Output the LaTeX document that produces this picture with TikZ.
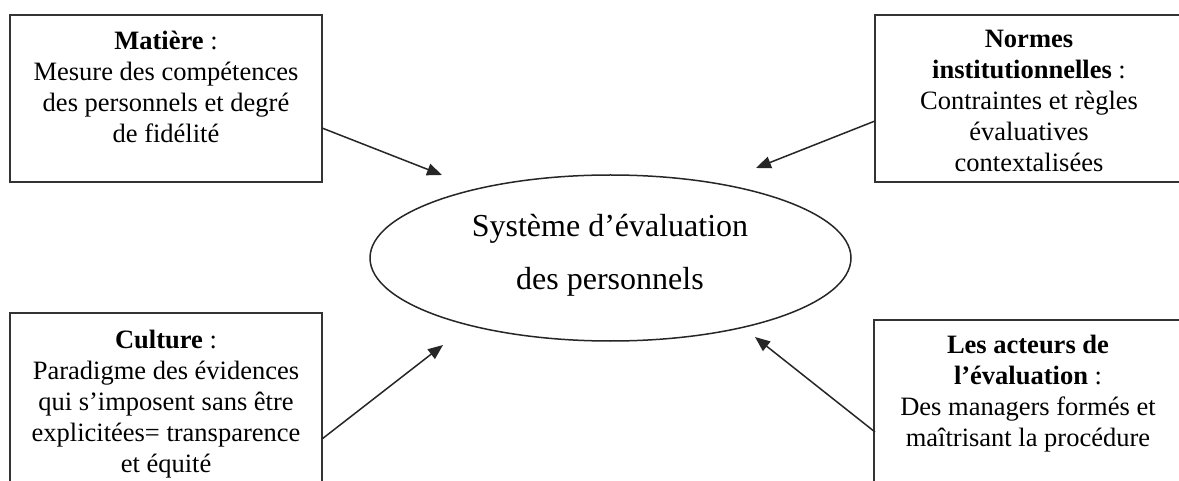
\documentclass[tikz,border=0pt]{standalone}
\usepackage{fontspec}
\setmainfont{Liberation Serif}
\usetikzlibrary{arrows.meta}
\begin{document}
\begin{tikzpicture}[x=1pt,y=-1pt,
  box/.style={draw=black!80,line width=1.5pt,fill=white,inner sep=0pt},
  boxtext/.style={align=center,inner sep=0pt,anchor=base,
    font=\fontsize{26.5}{31}\selectfont},
  link/.style={draw=black!85,line width=1.5pt,
    -{Triangle[length=15pt,width=12pt]}}]
\useasboundingbox (0,0) rectangle (1179,481);
\clip (0,0) rectangle (1179,481);
\fill[white] (0,0) rectangle (1179,481);

% four surrounding boxes
\draw[box] (10,15) rectangle (322,182);
\draw[box] (875,15) rectangle (1190,182);
\draw[box] (10,313) rectangle (322,495);
\draw[box] (874,320) rectangle (1190,495);

% central ellipse
\draw[draw=black!85,line width=1.5pt] (610.5,258) ellipse [x radius=240.5,y radius=83];

% texts (anchored on the baseline of their last line)
\node[boxtext] (tl) at (166,143) {\textbf{Matière} :\\Mesure des compétences\\des personnels et degré\\de fidélité};
\node[boxtext] (tr) at (1029,172) {\textbf{Normes}\\\textbf{institutionnelles} :\\Contraintes et règles\\évaluatives\\contextalisées};
\node[boxtext] (bl) at (166,472) {\textbf{Culture} :\\Paradigme des évidences\\qui s’imposent sans être\\explicitées= transparence\\et équité};
\node[boxtext] (br) at (1028,446) {\textbf{Les acteurs de}\\\textbf{l’évaluation} :\\Des managers formés et\\maîtrisant la procédure};
\node[align=center,inner sep=0pt,anchor=base,font=\fontsize{32}{53}\selectfont] (sys) at (610,290)
  {Système d’évaluation\\des personnels};

% connectors
\coordinate (a1) at (322,128); \coordinate (a2) at (442,175);
\coordinate (b1) at (875,121); \coordinate (b2) at (756,168);
\coordinate (c1) at (322,439); \coordinate (c2) at (443,345);
\coordinate (d1) at (875,432); \coordinate (d2) at (755,337);
\draw[link] (a1) -- (a2);
\draw[link] (b1) -- (b2);
\draw[link] (c1) -- (c2);
\draw[link] (d1) -- (d2);
\end{tikzpicture}
\end{document}
